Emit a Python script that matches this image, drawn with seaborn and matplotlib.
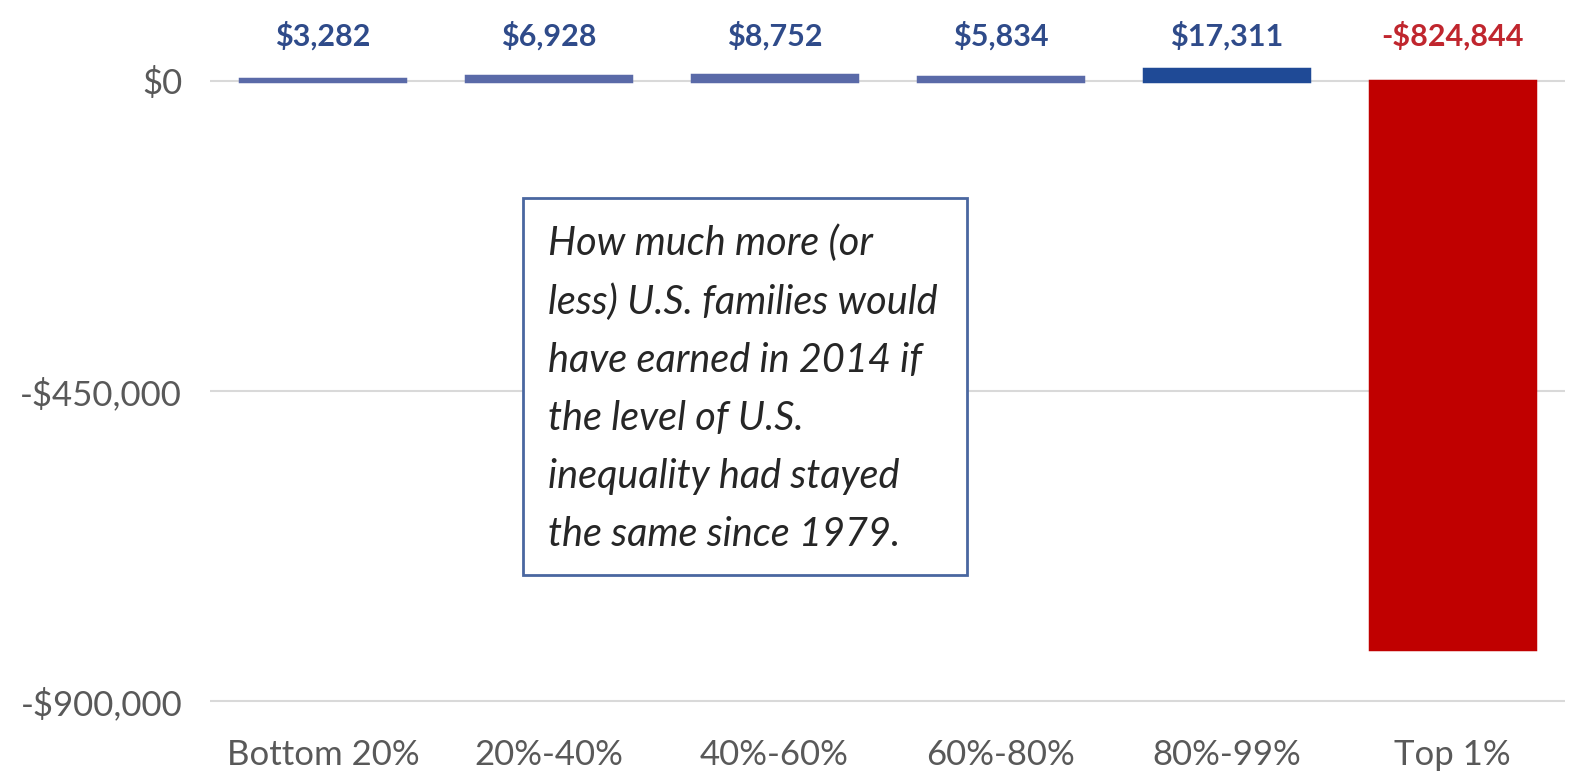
import matplotlib
matplotlib.use("Agg")
import matplotlib.pyplot as plt
import matplotlib.ticker as mticker
from matplotlib.patches import Rectangle
import pandas as pd
import seaborn as sns

# data
groups = ["Bottom 20%", "20%-40%", "40%-60%", "60%-80%", "80%-99%", "Top 1%"]
income_diff = [3282, 6928, 8752, 5834, 17311, -824844]
bar_colors = ["#5a6aa8", "#5a6aa8", "#5a6aa8", "#5a6aa8", "#1f4a96", "#c00000"]
label_colors = ["#2f4b8a", "#2f4b8a", "#2f4b8a", "#2f4b8a", "#2f4b8a", "#c0262e"]
y_ticks = [0, -450000, -900000]

note = ("How much more (or\nless) U.S. families would\nhave earned in 2014 if\n"
        "the level of U.S.\ninequality had stayed\nthe same since 1979.")

df = pd.DataFrame({"group": groups, "diff": income_diff})

sns.set_theme(style="white")
plt.rcParams["font.family"] = ["Lato", "DejaVu Sans"]

fig = plt.figure(figsize=(15.8, 7.84), dpi=100)
# axes placed in pixels: left 210, right 1565, top 0, bottom 725
ax = fig.add_axes([210 / 1580, 59 / 784, 1355 / 1580, 725 / 784])

sns.barplot(data=df, x="group", y="diff", hue="group", palette=bar_colors,
            legend=False, width=0.73, ax=ax, saturation=1)
for p, c in zip(ax.patches, bar_colors):
    p.set_edgecolor(c)
    p.set_linewidth(2.5)

ax.set_ylim(-934800, 117500)
ax.set_xlim(-0.5, 5.5)
ax.set_yticks(y_ticks)
ax.yaxis.set_major_formatter(mticker.FuncFormatter(
    lambda v, _: f"-${abs(v):,.0f}" if v < 0 else f"${v:,.0f}"))
ax.grid(axis="y", color="#d9d9d9", linewidth=1.5)
ax.set_axisbelow(True)
for s in ax.spines.values():
    s.set_visible(False)
ax.tick_params(axis="both", length=0, labelsize=25, labelcolor="#595959")
ax.tick_params(axis="y", pad=20)
ax.tick_params(axis="x", pad=10)
ax.set_xlabel("")
ax.set_ylabel("")

# value labels above the zero line
for i, (v, c) in enumerate(zip(income_diff, label_colors)):
    label = f"-${abs(v):,}" if v < 0 else f"${v:,}"
    ax.text(i, 66000, label, ha="center", va="center", fontsize=22,
            fontweight="bold", color=c)

# note box
ax.add_patch(Rectangle((523 / 1580, 1 - 575 / 784), 444 / 1580, 377 / 784,
                       transform=fig.transFigure, facecolor="white",
                       edgecolor="#4a67a0", linewidth=2, zorder=5))
fig.text(548 / 1580, 1 - 224 / 784, note, ha="left", va="top", fontsize=28.5,
         style="italic", color="#262626", linespacing=1.7, zorder=6)

fig.savefig("out.png", dpi=100)
